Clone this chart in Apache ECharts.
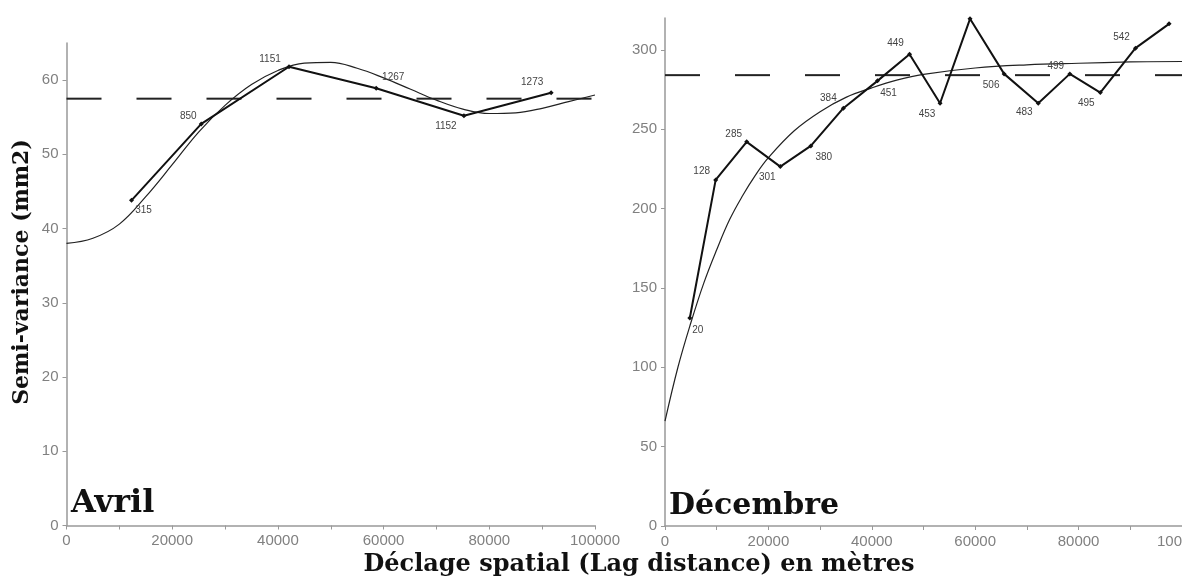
<!DOCTYPE html>
<html lang="fr">
  <head>
    <meta charset="UTF-8" />
    <title>Semi-variogrammes Avril / Décembre</title>
    <script src="https://cdn.jsdelivr.net/npm/echarts@6/dist/echarts.min.js"></script>
    <style>
      html, body { margin: 0; padding: 0; background: #fff; }
      #chart { width: 1182px; height: 579px; }
    </style>
  </head>
  <body>
    <div id="chart"></div>
    <script>
      // Avril : variogramme expérimental (lag en m, semi-variance, nb de paires)
      var avrilLag = [12300, 25500, 42100, 58600, 75200, 91700];
      var avrilGamma = [43.8, 54.1, 61.8, 58.9, 55.2, 58.3];
      var avrilPairs = ['315', '850', '1151', '1267', '1152', '1273'];
      // Avril : modèle ajusté
      var avrilModelLag = [0, 5000, 10000, 15000, 20000, 25000, 30000, 35000, 40000, 45000, 50000, 55000, 60000, 65000, 70000, 75000, 80000, 85000, 90000, 95000, 100000];
      var avrilModelGamma = [38.0, 38.7, 40.6, 44.3, 48.6, 53.0, 56.6, 59.4, 61.3, 62.3, 62.4, 61.6, 60.3, 58.8, 57.3, 56.1, 55.5, 55.6, 56.2, 57.1, 58.0];
      var avrilSill = 57.5;
      var avrilYTicks = [0, 10, 20, 30, 40, 50, 60];

      // Décembre
      var decLag = [4800, 9800, 15800, 22300, 28200, 34500, 41100, 47300, 53200, 59000, 65600, 72200, 78300, 84200, 91000, 97500];
      var decGamma = [131, 218, 242, 226.4, 239.4, 263.2, 280.4, 297.2, 266.3, 319.5, 284.8, 266.3, 284.8, 273, 301, 316.3];
      var decPairs = ['20', '128', '285', '301', '380', '384', '451', '449', '453', '', '506', '483', '499', '495', '542', ''];
      var decModelLag = [0, 2500, 5000, 7500, 10000, 12500, 15000, 17500, 20000, 25000, 30000, 35000, 40000, 45000, 50000, 60000, 70000, 80000, 90000, 100000];
      var decModelGamma = [66, 100, 128, 153, 174, 193, 208, 221, 232, 249, 261, 270, 276, 281, 284.5, 288.5, 290.5, 291.5, 292.3, 292.6];
      var decSill = 284;
      var decYTicks = [0, 50, 100, 150, 200, 250, 300];

      var xTicks = [0, 20000, 40000, 60000, 80000, 100000];

      // décalage des étiquettes (px) par rapport au point
      var avrilLabelOffset = [[12, 10], [-13, -8], [-19, -8], [17, -11], [-18, 11], [-19, -10]];
      var decLabelOffset = [[8, 12], [-14, -9], [-13, -8], [-13, 11], [13, 11], [-15, -10], [11, 12], [-14, -11], [-13, 11], [0, 0], [-13, 11], [-14, 9], [-14, -8], [-14, 11], [-14, -11], [0, 0]];

      var tickFont = { color: '#808080', fontSize: 15, fontFamily: 'Liberation Sans' };
      var axisColor = '#999';

      function pairs(xs, ys) {
        var out = [];
        for (var i = 0; i < xs.length; i++) out.push([xs[i], ys[i]]);
        return out;
      }

      function expData(xs, ys, names, offsets) {
        var out = [];
        for (var i = 0; i < xs.length; i++) {
          out.push({
            value: [xs[i], ys[i]],
            label: { show: names[i] !== '', formatter: names[i], offset: offsets[i] }
          });
        }
        return out;
      }

      function xAxisCfg(idx) {
        return {
          type: 'value',
          gridIndex: idx,
          min: 0,
          max: 100000,
          interval: 20000,
          splitLine: { show: false },
          axisLine: { lineStyle: { color: axisColor, width: 1.5 } },
          axisTick: { length: 4, lineStyle: { color: axisColor } },
          minorTick: { show: true, splitNumber: 2, length: 4, lineStyle: { color: axisColor } },
          axisLabel: Object.assign({
            margin: 8,
            customValues: xTicks,
            formatter: function (v) { return String(v); }
          }, tickFont)
        };
      }

      function yAxisCfg(idx, max, ticks) {
        return {
          type: 'value',
          gridIndex: idx,
          min: 0,
          max: max,
          splitLine: { show: false },
          axisLine: { show: true, lineStyle: { color: axisColor, width: 1.5 } },
          axisTick: { show: true, length: 4, customValues: ticks, lineStyle: { color: axisColor } },
          axisLabel: Object.assign({ margin: 8, customValues: ticks }, tickFont)
        };
      }

      function expSeries(idx, data) {
        return {
          type: 'line',
          xAxisIndex: idx,
          yAxisIndex: idx,
          data: data,
          symbol: 'diamond',
          symbolSize: 5,
          itemStyle: { color: '#111' },
          lineStyle: { color: '#111', width: 2 },
          label: {
            position: 'inside',
            color: '#444',
            fontSize: 10,
            fontFamily: 'Liberation Sans'
          },
          animation: false,
          z: 3
        };
      }

      function modelSeries(idx, data) {
        return {
          type: 'line',
          xAxisIndex: idx,
          yAxisIndex: idx,
          data: data,
          smooth: 0.4,
          showSymbol: false,
          lineStyle: { color: '#222', width: 1.2 },
          animation: false,
          z: 2
        };
      }

      function sillSeries(idx, sill) {
        return {
          type: 'line',
          xAxisIndex: idx,
          yAxisIndex: idx,
          data: [[0, sill], [100000, sill]],
          showSymbol: false,
          lineStyle: { color: '#222', width: 2, type: [35, 35] },
          animation: false,
          z: 1
        };
      }

      var chart = echarts.init(document.getElementById('chart'));
      var option = {
        backgroundColor: '#fff',
        animation: false,
        grid: [
          { left: 66.5, top: 43, width: 528.5, height: 482.5, containLabel: false, outerBoundsMode: 'none' },
          { left: 665, top: 18, width: 517, height: 508, containLabel: false, outerBoundsMode: 'none' }
        ],
        xAxis: [xAxisCfg(0), xAxisCfg(1)],
        yAxis: [yAxisCfg(0, 65, avrilYTicks), yAxisCfg(1, 320, decYTicks)],
        series: [
          sillSeries(0, avrilSill),
          modelSeries(0, pairs(avrilModelLag, avrilModelGamma)),
          expSeries(0, expData(avrilLag, avrilGamma, avrilPairs, avrilLabelOffset)),
          sillSeries(1, decSill),
          modelSeries(1, pairs(decModelLag, decModelGamma)),
          expSeries(1, expData(decLag, decGamma, decPairs, decLabelOffset))
        ],
        graphic: [
          {
            type: 'text', x: 71, y: 520,
            style: { text: 'Avril', font: 'bold 32px "DejaVu Serif"', fill: '#111', textVerticalAlign: 'bottom' }
          },
          {
            type: 'text', x: 669, y: 521,
            style: { text: 'Décembre', font: 'bold 30px "DejaVu Serif"', fill: '#111', textVerticalAlign: 'bottom' }
          },
          {
            type: 'text', x: 22, y: 272, rotation: Math.PI / 2,
            style: { text: 'Semi-variance (mm2)', font: 'bold 22px "DejaVu Serif"', fill: '#111', textAlign: 'center', textVerticalAlign: 'middle' }
          },
          {
            type: 'text', x: 639, y: 565,
            style: { text: 'Déclage spatial (Lag distance) en mètres', font: 'bold 24px "DejaVu Serif"', fill: '#111', textAlign: 'center', textVerticalAlign: 'middle' }
          }
        ]
      };
      chart.setOption(option);
    </script>
  </body>
</html>
